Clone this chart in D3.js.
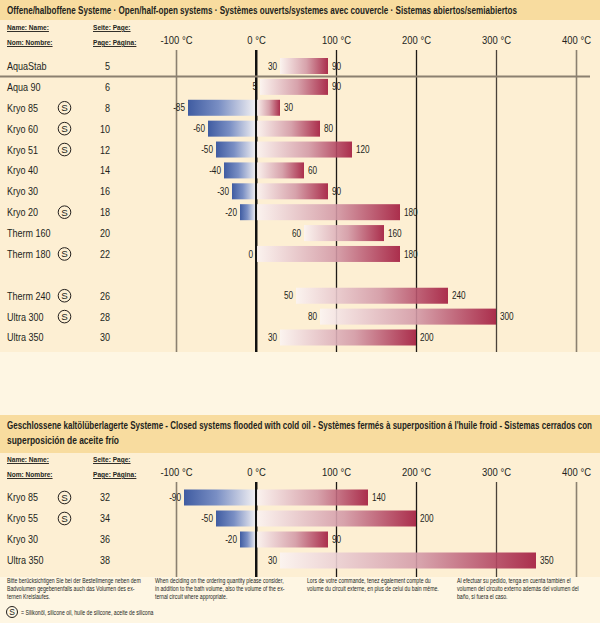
<!DOCTYPE html>
<html>
<head>
<meta charset="utf-8">
<title>Temperature ranges</title>
<script src="https://d3js.org/d3.v7.min.js"></script>
<style>
body { margin: 0; background: #fef6e3; }
svg text {
    font-family: "Liberation Sans", Arial, sans-serif;
    fill: #231f1c;
}
</style>
</head>
<body>
<script>
// open / half-open systems
var topNames = ["AquaStab", "Aqua 90", "Kryo 85", "Kryo 60", "Kryo 51", "Kryo 40", "Kryo 30", "Kryo 20", "Therm 160", "Therm 180", "Therm 240", "Ultra 300", "Ultra 350"];
var topPages = [5, 6, 8, 10, 12, 14, 16, 18, 20, 22, 26, 28, 30];
var topSilicone = [false, false, true, true, true, false, false, true, false, true, true, true, false];
var topMin = [30, 5, -85, -60, -50, -40, -30, -20, 60, 0, 50, 80, 30];
var topMax = [90, 90, 30, 80, 120, 60, 90, 180, 160, 180, 240, 300, 200];

// closed systems flooded with cold oil
var botNames = ["Kryo 85", "Kryo 55", "Kryo 30", "Ultra 350"];
var botPages = [32, 34, 36, 38];
var botSilicone = [true, true, false, false];
var botMin = [-90, -50, -20, 30];
var botMax = [140, 200, 90, 350];

var tempTicks = [-100, 0, 100, 200, 300, 400];

var topTitle = "Offene/halboffene Systeme · Open/half-open systems · Systèmes ouverts/systemes avec couvercle · Sistemas abiertos/semiabiertos";
var botTitle = ["Geschlossene kaltölüberlagerte Systeme - Closed systems flooded with cold oil - Systèmes fermés à superposition á l'huile froid - Sistemas cerrados con",
    "superposición de aceite frío"];
var notes = [
    ["Bitte berücksichtigen Sie bei der Bestellmenge neben dem", "Badvolumen gegebenenfalls auch das Volumen des ex-", "ternen Kreislaufes."],
    ["When deciding on the ordering quantity please consider,", "in addition to the bath volume, also the volume of the ex-", "ternal circuit where appropriate."],
    ["Lors de votre commande, tenez également compte du", "volume du circuit externe, en plus de celui du bain même."],
    ["Al efectuar su pedido, tenga en cuenta también el", "volumen del circuito externo además del volumen del", "baño, si fuera el caso."]
];
var legendText = "= Silikonöl, silicone oil, huile de silicone, aceite de silicona";

var W = 600, H = 623;
var bandColor = "#f8dc9f", panelColor = "#fdefd3";

var svg = d3.select("body").append("svg")
    .attr("width", W)
    .attr("height", H);

var defs = svg.append("defs");
var blue = defs.append("linearGradient").attr("id", "blueGrad");
blue.append("stop").attr("offset", "0%").attr("stop-color", "#2b4c9c");
blue.append("stop").attr("offset", "45%").attr("stop-color", "#6b84c2");
blue.append("stop").attr("offset", "100%").attr("stop-color", "#f3f2f7");
var red = defs.append("linearGradient").attr("id", "redGrad");
red.append("stop").attr("offset", "0%").attr("stop-color", "#fbf4f2");
red.append("stop").attr("offset", "55%").attr("stop-color", "#d39aa7");
red.append("stop").attr("offset", "100%").attr("stop-color", "#a21a3e");

// temperature scale shared by both panels
var x = d3.scaleLinear().domain([-100, 400]).range([176, 576]);

// backgrounds
svg.append("rect").attr("x", 0).attr("y", 0).attr("width", W).attr("height", 20).attr("fill", bandColor);
svg.append("rect").attr("x", 0).attr("y", 20).attr("width", W).attr("height", 332).attr("fill", panelColor);
svg.append("rect").attr("x", 0).attr("y", 415).attr("width", W).attr("height", 38).attr("fill", bandColor);
svg.append("rect").attr("x", 0).attr("y", 453).attr("width", W).attr("height", 124).attr("fill", panelColor);

svg.append("text").attr("class", "nosq").attr("x", 7).attr("y", 14)
    .attr("textLength", 510).attr("lengthAdjust", "spacingAndGlyphs")
    .style("font-size", "10.5px").style("font-weight", "bold")
    .text(topTitle);

svg.append("text").attr("class", "nosq").attr("x", 7).attr("y", 429)
    .style("font-size", "10.5px").style("font-weight", "bold")
    .selectAll("tspan").data(botTitle).enter().append("tspan")
    .attr("x", 7).attr("dy", function(d, i) { return i ? 15 : 0; })
    .attr("textLength", function(d, i) { return i ? 112 : 585; })
    .attr("lengthAdjust", "spacingAndGlyphs")
    .text(function(d) { return d; });

function siliconeMark(g, cx, cy, r) {
    g.append("circle").attr("cx", cx).attr("cy", cy).attr("r", r)
        .attr("fill", "none").attr("stroke", "#231f1c").attr("stroke-width", 1);
    g.append("text").attr("class", "nosq").attr("x", cx).attr("y", cy).attr("dy", "0.36em")
        .attr("text-anchor", "middle").style("font-size", (r * 1.55) + "px")
        .text("S");
}

function drawSection(cfg) {
    var g = svg.append("g");

    // column headings
    var head = g.append("g").style("font-size", "8px").style("font-weight", "bold")
        .style("text-decoration", "underline");
    head.append("text").attr("x", 7).attr("y", cfg.headY).text("Name: Name:");
    head.append("text").attr("x", 7).attr("y", cfg.headY + 15).text("Nom: Nombre:");
    head.append("text").attr("x", 93).attr("y", cfg.headY).text("Seite: Page:");
    head.append("text").attr("x", 93).attr("y", cfg.headY + 15).text("Page: Página:");

    // tick labels
    var labels = g.append("g")
        .attr("transform", "translate(0," + cfg.labelY + ")")
        .call(d3.axisTop(x).tickValues(tempTicks).tickSize(0).tickPadding(0)
            .tickFormat(function(d) { return d + " °C"; }));
    labels.select(".domain").remove();
    labels.attr("font-family", null).attr("font-size", null);
    labels.selectAll("text").style("font-size", "11.5px").attr("fill", null);

    // vertical grid lines
    var grid = g.append("g")
        .attr("transform", "translate(0," + cfg.gridTop + ")")
        .call(d3.axisBottom(x).tickValues(tempTicks).tickSize(cfg.gridBottom - cfg.gridTop).tickFormat(""));
    grid.select(".domain").remove();
    grid.selectAll("line")
        .attr("stroke", function(d) { return (d == -100 || d == 400) ? "#8b8070" : (d == 300 ? "#4a423a" : "#1e1a17"); })
        .attr("stroke-width", function(d) { return d == 0 ? 2 : ((d == -100 || d == 400) ? 1.6 : 1.3); });

    var y = d3.scalePoint().domain(cfg.domain).range([cfg.firstY, cfg.lastY]);
    var rows = cfg.names.map(function(n, i) {
        return { name: n, page: cfg.pages[i], sil: cfg.sil[i], lo: cfg.lo[i], hi: cfg.hi[i] };
    });
    var barH = 16;

    var row = g.selectAll("g.row").data(rows).enter().append("g")
        .attr("class", "row")
        .attr("transform", function(d) { return "translate(0," + y(d.name) + ")"; });

    row.append("text").attr("x", 7).attr("dy", "0.36em")
        .style("font-size", "11px").text(function(d) { return d.name; });
    row.append("text").attr("x", 110).attr("dy", "0.36em").attr("text-anchor", "end")
        .style("font-size", "11px").text(function(d) { return d.page; });
    row.filter(function(d) { return d.sil; }).each(function() {
        siliconeMark(d3.select(this), 64.5, 0, 6.3);
    });

    // cold part
    row.filter(function(d) { return d.lo < 0; }).append("rect")
        .attr("x", function(d) { return x(d.lo); })
        .attr("y", -barH / 2)
        .attr("width", function(d) { return x(0) - x(d.lo); })
        .attr("height", barH)
        .attr("fill", "url(#blueGrad)")
        .attr("fill-opacity", 0.9);
    // warm part
    row.append("rect")
        .attr("x", function(d) { return x(Math.max(d.lo, 0)); })
        .attr("y", -barH / 2)
        .attr("width", function(d) { return x(d.hi) - x(Math.max(d.lo, 0)); })
        .attr("height", barH)
        .attr("fill", "url(#redGrad)")
        .attr("fill-opacity", 0.9);

    row.append("text").attr("x", function(d) { return x(d.lo) - 3; })
        .attr("dy", "0.36em").attr("text-anchor", "end")
        .style("font-size", "10px").text(function(d) { return d.lo; });
    row.append("text").attr("x", function(d) { return x(d.hi) + 4; })
        .attr("dy", "0.36em")
        .style("font-size", "10px").text(function(d) { return d.hi; });

    // zero line on top of the bars
    g.append("line").attr("x1", x(0)).attr("x2", x(0))
        .attr("y1", cfg.gridTop).attr("y2", cfg.gridBottom)
        .attr("stroke", "#111").attr("stroke-width", 2);

    return y;
}

// top panel has an empty slot before Therm 240
var topDomain = topNames.slice(0, 10).concat(["gap"], topNames.slice(10));
var yTop = drawSection({
    names: topNames, pages: topPages, sil: topSilicone, lo: topMin, hi: topMax,
    domain: topDomain, firstY: 66, lastY: 337.5,
    headY: 30, labelY: 44, gridTop: 50, gridBottom: 352
});

// separator under AquaStab
svg.append("line")
    .attr("x1", 0).attr("x2", 590)
    .attr("y1", (yTop(topNames[0]) + yTop(topNames[1])) / 2)
    .attr("y2", (yTop(topNames[0]) + yTop(topNames[1])) / 2)
    .attr("stroke", "#8b8070").attr("stroke-width", 2);

drawSection({
    names: botNames, pages: botPages, sil: botSilicone, lo: botMin, hi: botMax,
    domain: botNames, firstY: 497.5, lastY: 560.5,
    headY: 462, labelY: 476, gridTop: 482, gridBottom: 577
});

// footnotes
var noteX = [7, 155, 307, 457];
svg.selectAll("text.note").data(notes).enter().append("text")
    .attr("class", "note")
    .attr("y", 583)
    .style("font-size", "6.3px")
    .each(function(lines, i) {
        d3.select(this).selectAll("tspan").data(lines).enter().append("tspan")
            .attr("x", noteX[i])
            .attr("dy", function(d, j) { return j ? 8 : 0; })
            .text(function(d) { return d; });
    });

siliconeMark(svg, 12, 612, 5.5);
svg.append("text").attr("x", 21).attr("y", 614.5)
    .style("font-size", "6.3px").text(legendText);

// the original uses a condensed face; squeeze the regular one to match
svg.selectAll("text:not(.nosq)").each(function() {
    var t = d3.select(this);
    var parts = t.selectAll("tspan");
    var targets = parts.empty() ? [this] : parts.nodes();
    targets.forEach(function(el) {
        var w = el.getComputedTextLength();
        d3.select(el).attr("textLength", w * 0.82).attr("lengthAdjust", "spacingAndGlyphs");
    });
});
</script>
</body>
</html>
